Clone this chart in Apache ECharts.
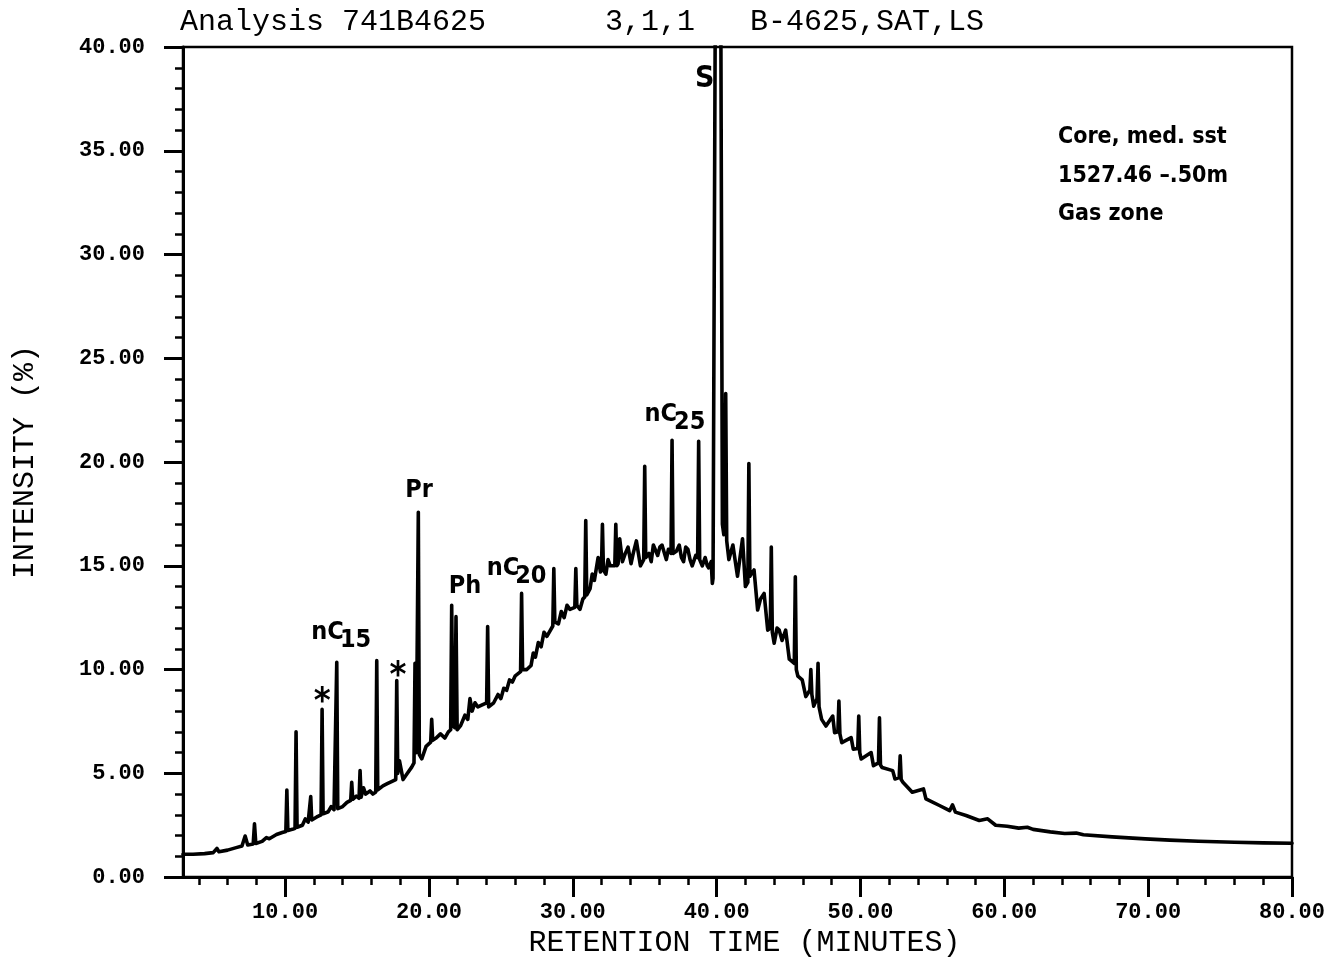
<!DOCTYPE html>
<html>
<head>
<meta charset="utf-8">
<title>Analysis 741B4625</title>
<script src="https://cdn.jsdelivr.net/npm/echarts@6/dist/echarts.min.js"></script>
<style>
  html, body { margin: 0; padding: 0; background: #fff; }
  #chart { width: 1328px; height: 963px; }
</style>
</head>
<body>
<div id="chart"></div>
<script>
// Saturate fraction gas chromatogram, B-4625: retention time (min) vs intensity (%)

const headerParts = ['Analysis 741B4625', '3,1,1', 'B-4625,SAT,LS'];
const sampleNote = ['Core, med. sst', '1527.46 \u2013.50m', 'Gas zone'];

const xMajorTicks = [10, 20, 30, 40, 50, 60, 70, 80];
const xMinorTicks = [4, 6, 8, 12, 14, 16, 18, 22, 24, 26, 28, 32, 34, 36, 38, 42, 44, 46, 48,
                     52, 54, 56, 58, 62, 64, 66, 68, 72, 74, 76, 78];

// trace segments: [retention time, intensity]
const traceEarly = [
  [2.9, 1.1], [3.6, 1.1], [4.4, 1.13], [5.0, 1.18], [5.26, 1.38], [5.4, 1.22], [6.0, 1.3],
  [6.6, 1.42], [7.0, 1.5], [7.22, 1.98], [7.4, 1.55], [7.78, 1.6], [7.87, 2.57], [7.96, 1.62],
  [8.4, 1.72], [8.7, 1.9], [8.9, 1.85], [9.4, 2.05], [9.8, 2.15], [10.05, 2.2], [10.12, 4.2],
  [10.19, 2.25], [10.5, 2.3], [10.69, 2.35], [10.76, 7.0], [10.83, 2.4], [11.2, 2.5],
  [11.4, 2.8], [11.6, 2.65], [11.71, 2.7], [11.78, 3.88], [11.85, 2.75], [12.2, 2.9],
  [12.5, 3.0], [12.57, 8.08], [12.64, 3.05], [13.0, 3.15], [13.2, 3.4], [13.4, 3.25],
  [13.52, 3.3], [13.59, 10.35], [13.66, 3.3], [14.0, 3.4], [14.3, 3.6], [14.56, 3.7],
  [14.63, 4.57], [14.7, 3.75], [14.95, 3.9], [15.14, 3.8], [15.21, 5.13], [15.28, 3.85],
  [15.45, 4.3], [15.6, 4.0], [15.9, 4.15], [16.1, 4.0], [16.3, 4.1], [16.37, 10.43],
  [16.44, 4.2], [16.8, 4.4], [17.1, 4.5], [17.4, 4.6], [17.69, 4.7], [17.76, 9.47],
  [17.83, 5.0], [17.95, 5.6], [18.2, 4.7], [18.5, 5.0], [18.8, 5.3], [18.96, 5.5],
  [19.03, 10.3], [19.12, 6.0], [19.19, 6.0], [19.26, 17.58], [19.33, 5.9]
];

const traceHump = [
  [19.5, 5.7], [19.8, 6.3], [20.12, 6.5], [20.19, 7.6], [20.26, 6.6], [20.5, 6.7], [20.8, 6.9],
  [21.1, 6.7], [21.35, 7.0], [21.51, 7.1], [21.58, 13.1], [21.66, 7.3], [21.8, 7.2],
  [21.88, 12.55], [21.96, 7.1], [22.2, 7.3], [22.5, 7.8], [22.7, 7.6], [22.85, 8.6],
  [23.0, 8.0], [23.2, 8.4], [23.4, 8.2], [23.7, 8.3], [24.01, 8.4], [24.08, 12.07],
  [24.15, 8.2], [24.5, 8.4], [24.8, 8.8], [25.0, 8.6], [25.2, 9.1], [25.4, 9.0], [25.6, 9.5],
  [25.8, 9.4], [26.0, 9.7], [26.37, 9.9], [26.44, 13.67], [26.51, 10.0], [26.8, 10.0],
  [27.1, 10.2], [27.25, 10.8], [27.4, 10.6], [27.6, 11.3], [27.8, 11.1], [28.0, 11.8],
  [28.2, 11.6], [28.61, 12.1], [28.68, 14.87], [28.75, 12.3], [29.0, 12.2], [29.2, 12.8],
  [29.4, 12.5], [29.6, 13.1], [29.8, 12.9], [30.14, 13.0], [30.21, 14.87], [30.28, 13.1],
  [30.5, 12.9], [30.7, 13.4], [30.83, 13.5], [30.9, 17.18], [30.97, 13.6], [31.2, 13.9],
  [31.35, 14.6], [31.5, 14.3], [31.76, 15.4], [31.92, 14.7], [31.99, 14.8], [32.06, 17.0],
  [32.13, 14.8], [32.3, 14.6], [32.45, 15.3], [32.6, 15.0], [32.92, 15.0], [32.99, 17.0],
  [33.06, 15.0], [33.15, 15.1], [33.26, 16.3], [33.45, 15.2], [33.65, 15.6], [33.84, 15.9],
  [34.05, 15.1], [34.2, 15.6], [34.42, 16.2], [34.7, 15.0], [34.93, 15.3], [35.0, 19.8],
  [35.07, 15.4], [35.3, 15.6], [35.45, 15.2], [35.6, 16.0], [35.9, 15.5], [36.05, 15.9],
  [36.2, 16.0], [36.5, 15.3], [36.65, 15.8], [36.83, 15.6], [36.9, 21.05], [36.97, 15.6],
  [37.2, 15.7], [37.4, 16.0], [37.55, 15.4], [37.7, 15.2], [37.85, 15.9], [38.0, 15.8],
  [38.15, 15.3], [38.3, 15.0], [38.55, 15.5], [38.68, 15.4], [38.75, 21.0], [38.82, 15.3],
  [39.0, 15.0], [39.2, 15.4], [39.35, 15.0], [39.45, 14.9], [39.62, 15.2], [39.7, 14.15]
];

// solvent/standard peak S runs far off scale
const traceSolvent = [
  [39.75, 14.4], [40.12, 80], [40.4, 17.0], [40.5, 16.5], [40.56, 16.6], [40.63, 23.3],
  [40.7, 16.2], [40.85, 15.3], [41.13, 16.0], [41.3, 15.2], [41.45, 14.5], [41.8, 16.3],
  [42.0, 14.0], [42.17, 14.2], [42.24, 19.93], [42.31, 14.5], [42.4, 14.6], [42.6, 14.8],
  [42.85, 12.87], [43.05, 13.4], [43.3, 13.67], [43.55, 11.9], [43.73, 12.0], [43.8, 15.9],
  [43.87, 11.8], [44.0, 11.27], [44.2, 12.0], [44.35, 11.9], [44.55, 11.4], [44.8, 11.9],
  [45.05, 10.5], [45.4, 10.3], [45.47, 14.47], [45.54, 10.0], [45.65, 9.68], [45.95, 9.5],
  [46.2, 8.7], [46.48, 9.0], [46.55, 10.0], [46.62, 8.8], [46.75, 8.24], [46.98, 8.6],
  [47.05, 10.3], [47.12, 8.2], [47.3, 7.6], [47.6, 7.28], [48.07, 7.76], [48.2, 6.96],
  [48.43, 7.0], [48.5, 8.48], [48.57, 6.9], [48.7, 6.48], [49.35, 6.72], [49.5, 6.16],
  [49.81, 6.2], [49.88, 7.76], [49.95, 6.0], [50.05, 5.69], [50.74, 6.0], [50.9, 5.37],
  [51.25, 5.5], [51.32, 7.68], [51.39, 5.4], [51.5, 5.28], [52.24, 5.13], [52.4, 4.73],
  [52.69, 4.8], [52.76, 5.84], [52.83, 4.7], [52.95, 4.57]
];

const traceTail = [
  [53.6, 4.09], [54.38, 4.25], [54.55, 3.77], [55.49, 3.45], [56.2, 3.2], [56.4, 3.48],
  [56.6, 3.13], [57.34, 2.97], [58.26, 2.73], [58.84, 2.81], [59.4, 2.5], [60.2, 2.45],
  [61.0, 2.36], [61.6, 2.4], [62.0, 2.3], [63.2, 2.18], [64.2, 2.1], [65.0, 2.12], [65.5, 2.04],
  [67.5, 1.94], [69.8, 1.84], [71.5, 1.78], [73.5, 1.73], [76.0, 1.68], [78.0, 1.65], [80.0, 1.63]
];

// peak identifications: [text, retention time, intensity] of each label centre
const peakNotes = [
  ['nC', 12.95, 11.81], ['15', 14.9, 11.38],
  ['*', 12.57, 8.4], ['*', 17.85, 9.65],
  ['Pr', 19.31, 18.63], ['Ph', 22.5, 14.02],
  ['nC', 25.14, 14.86], ['20', 27.08, 14.5],
  ['nC', 36.11, 22.3], ['25', 38.13, 21.92],
  ['S', 39.17, 38.45]
];

const INK = '#000';
const plotFont = "'Liberation Mono', 'DejaVu Sans Mono', monospace";
const noteFont = "'Liberation Sans Narrow', 'DejaVu Sans Condensed', 'Arial Narrow', sans-serif";

const trace = traceEarly.concat(traceHump, traceSolvent, traceTail);

const noteItems = peakNotes.map(([text, t, v]) => ({
  value: [t, v],
  name: text,
  label: {
    fontSize: text === 'S' ? 30 : (text === '*' ? 36 : 25)
  }
}));

const headerLeft = [180, 605, 750];

const chart = echarts.init(document.getElementById('chart'), null, { renderer: 'canvas' });

chart.setOption({
  backgroundColor: '#fff',
  animation: false,
  title: headerParts.map((txt, i) => ({
    text: txt,
    left: headerLeft[i],
    top: 7,
    padding: 0,
    textStyle: { fontFamily: plotFont, fontSize: 30, fontWeight: 'normal', color: INK }
  })).concat([{
    text: sampleNote.join('\n'),
    left: 1058,
    top: 118,
    padding: 0,
    textStyle: { fontFamily: noteFont, fontSize: 23, fontWeight: 'bold', color: INK, lineHeight: 38.5 }
  }]),
  grid: {
    left: 183, right: 35, top: 47, bottom: 83,
    show: true, borderColor: INK, borderWidth: 2.5, backgroundColor: 'transparent'
  },
  xAxis: [
    {
      type: 'value', min: 2.9, max: 80, position: 'bottom',
      axisLine: { show: true, onZero: false, lineStyle: { color: INK, width: 3 } },
      axisTick: { show: true, customValues: xMajorTicks, length: 20, lineStyle: { color: INK, width: 3 } },
      axisLabel: {
        customValues: xMajorTicks, formatter: v => v.toFixed(2), margin: 24,
        fontFamily: plotFont, fontWeight: 'bold', fontSize: 22, color: INK
      },
      splitLine: { show: false },
      name: 'RETENTION TIME (MINUTES)', nameLocation: 'middle', nameGap: 50,
      nameTextStyle: { fontFamily: plotFont, fontSize: 30, color: INK, padding: [0, 0, 0, 14] }
    },
    {
      type: 'value', min: 2.9, max: 80, position: 'bottom', offset: 0,
      axisLine: { show: false },
      axisTick: { show: true, customValues: xMinorTicks, length: 8, lineStyle: { color: INK, width: 2.5 } },
      axisLabel: { show: false },
      splitLine: { show: false }
    }
  ],
  yAxis: {
    type: 'value', min: 0, max: 40, interval: 5,
    axisLine: { show: true, lineStyle: { color: INK, width: 3 } },
    axisTick: { show: true, length: 19, lineStyle: { color: INK, width: 3 } },
    minorTick: { show: true, splitNumber: 5, length: 8, lineStyle: { color: INK, width: 2.5 } },
    axisLabel: {
      formatter: v => v.toFixed(2), margin: 38,
      fontFamily: plotFont, fontWeight: 'bold', fontSize: 22, color: INK
    },
    splitLine: { show: false },
    minorSplitLine: { show: false },
    name: 'INTENSITY (%)', nameLocation: 'middle', nameGap: 143,
    nameTextStyle: { fontFamily: plotFont, fontSize: 30, color: INK }
  },
  series: [
    {
      type: 'line',
      xAxisIndex: 0,
      data: trace,
      showSymbol: false,
      symbol: 'none',
      clip: true,
      silent: true,
      lineStyle: { color: INK, width: 3.6, join: 'round', cap: 'round' }
    },
    {
      type: 'scatter',
      xAxisIndex: 0,
      data: noteItems,
      symbolSize: 0,
      silent: true,
      itemStyle: { opacity: 1 },
      label: {
        show: true,
        position: 'inside',
        formatter: p => p.name,
        fontFamily: noteFont,
        fontWeight: 'bold',
        color: INK,
        opacity: 1
      }
    }
  ]
});
</script>
</body>
</html>
